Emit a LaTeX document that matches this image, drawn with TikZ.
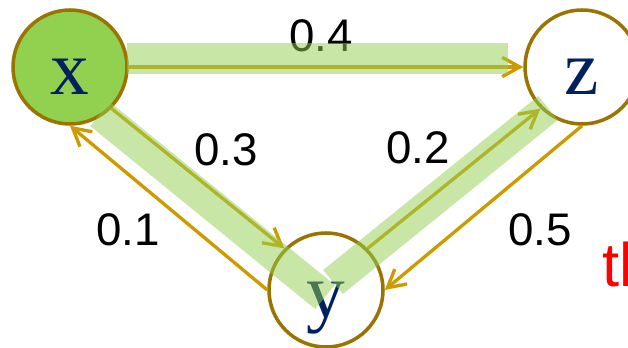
\documentclass[tikz,border=0pt]{standalone}
\usepackage{fontspec}
\setmainfont{Liberation Serif}
\setsansfont{Liberation Sans}
\usetikzlibrary{arrows.meta}
\definecolor{nodegreen}{RGB}{146,208,80}
\definecolor{rimgold}{RGB}{155,115,0}
\definecolor{linkgold}{RGB}{205,155,0}
\definecolor{letternavy}{RGB}{0,32,96}

\begin{document}
\begin{tikzpicture}[
    vertex/.style={circle, draw=rimgold, line width=2pt, minimum size=2.28cm, inner sep=0pt, fill=white,
        text=letternavy, font=\fontsize{44}{48}\selectfont, text height=39.6pt, text depth=8.4pt},
    link/.style={draw=linkgold, line width=1.9pt, -{Straight Barb[length=10pt,width=11pt]}},
    weight/.style={font=\sffamily\fontsize{26}{30}\selectfont, inner sep=0pt},
    band/.style={draw=nodegreen, draw opacity=0.5, line width=0.62cm}]
    \useasboundingbox (0,0) rectangle (12.56,6.96);
    \clip (0,0) rectangle (12.56,6.96);
    % vertices
    \node[vertex, fill=nodegreen] (x) at (1.40,5.62) {x};
    \node[vertex] (z) at (11.64,5.62) {z};
    \node[vertex] (y) at (6.52,1.16) {y};
    % weighted links
    \draw[link] (x.east) -- (z.west);
    \draw[link] (x.-45) -- (y.135);
    \draw[link] (y.west) -- (x.south);
    \draw[link] (y.45) -- (z.-135);
    \draw[link] (z.south) -- (y.east);
    \node[weight] (w4) at (6.42,6.24) {0.4};
    \node[weight] (w3) at (4.52,3.96) {0.3};
    \node[weight] (w2) at (8.36,4.00) {0.2};
    \node[weight] (w1) at (2.56,2.36) {0.1};
    \node[weight] (w5) at (10.80,2.36) {0.5};
    \node[anchor=base west, inner sep=0pt, text=red, font=\sffamily\fontsize{35}{40}\selectfont] (cut) at (12.04,1.22) {tl};
    % highlighted path
    \coordinate (xzA) at (2.54,5.79);
    \coordinate (xzB) at (10.16,5.79);
    \coordinate (xyA) at (2.00,4.68);
    \coordinate (xyB) at (6.50,1.02);
    \coordinate (yzA) at (6.66,1.32);
    \coordinate (yzB) at (10.96,4.80);
    \draw[band] (xzA) -- (xzB);
    \draw[band] (xyA) -- (xyB);
    \draw[band] (yzA) -- (yzB);
\end{tikzpicture}
\end{document}
